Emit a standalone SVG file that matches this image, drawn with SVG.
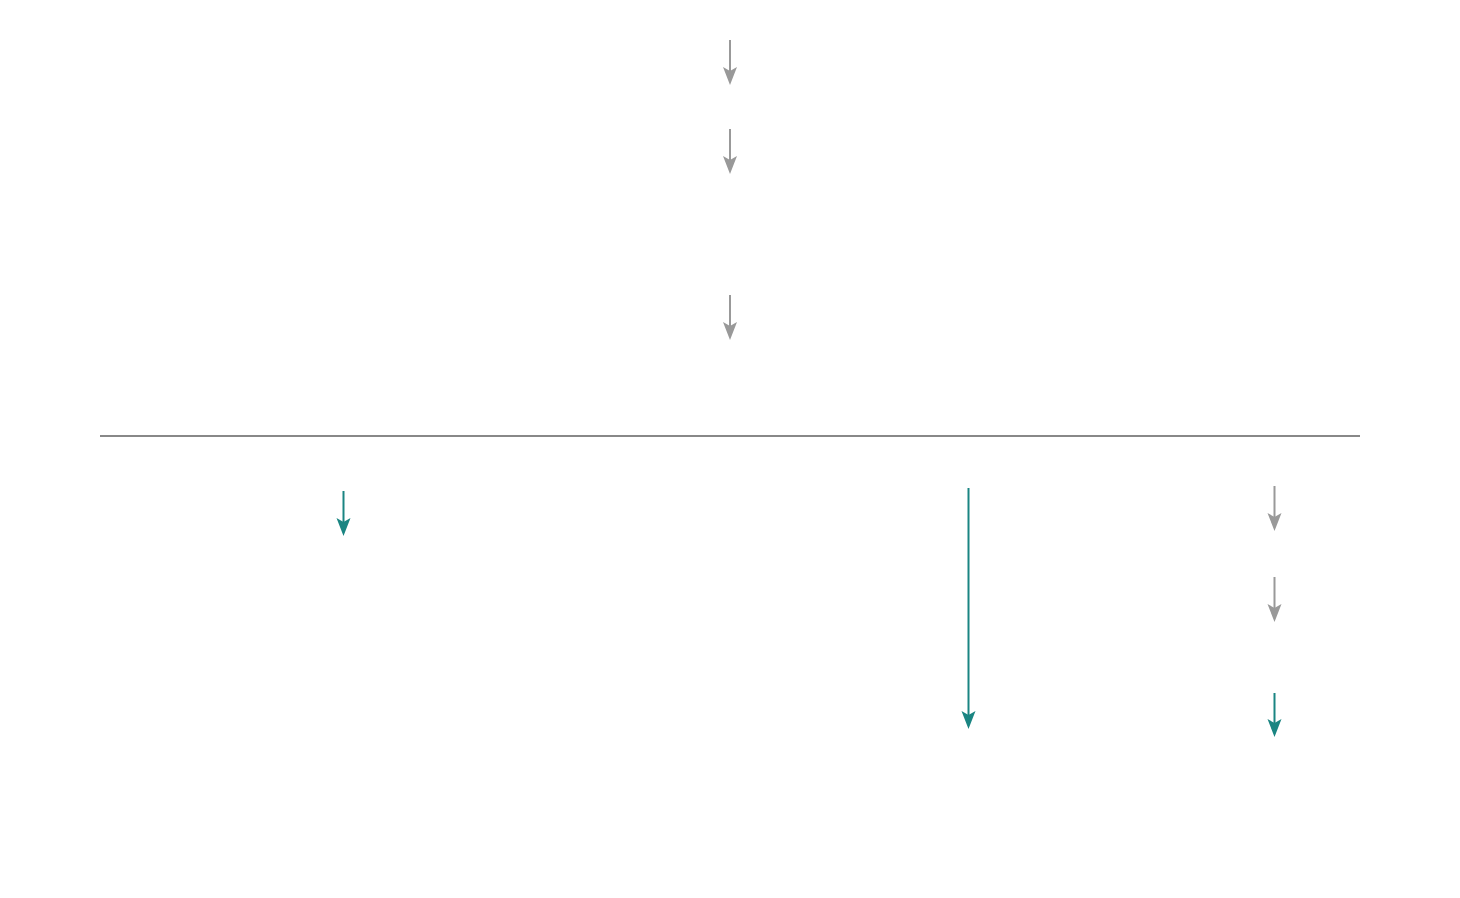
<svg xmlns="http://www.w3.org/2000/svg" width="1460" height="898" viewBox="0 0 1460 898">
<style>
.g{stroke:#999999;stroke-width:2;fill:none}
.t{stroke:#1a8582;stroke-width:2;fill:none}
.sep{stroke:#888888;stroke-width:2}
</style>
<defs>
<marker id="ag" viewBox="0 0 18 16" markerWidth="18" markerHeight="16" refX="14" refY="8" orient="auto" markerUnits="userSpaceOnUse">
<path d="M0,1 L18,8 L0,15 L4,8 Z" fill="#999999"/>
</marker>
<marker id="at" viewBox="0 0 18 16" markerWidth="18" markerHeight="16" refX="14" refY="8" orient="auto" markerUnits="userSpaceOnUse">
<path d="M0,1 L18,8 L0,15 L4,8 Z" fill="#1a8582"/>
</marker>
</defs>
<rect width="1460" height="898" fill="#ffffff"/>
<line id="divider" class="sep" x1="100" y1="436" x2="1360" y2="436"/>
<g id="connectors">
<path class="g" d="M730,40 L730,81" marker-end="url(#ag)"/>
<path class="g" d="M730,129 L730,170" marker-end="url(#ag)"/>
<path class="g" d="M730,295 L730,336" marker-end="url(#ag)"/>
<path class="t" d="M343.5,491 L343.5,532" marker-end="url(#at)"/>
<path class="t" d="M968.5,488 L968.5,725" marker-end="url(#at)"/>
<path class="g" d="M1274.5,486 L1274.5,527" marker-end="url(#ag)"/>
<path class="g" d="M1274.5,577 L1274.5,618" marker-end="url(#ag)"/>
<path class="t" d="M1274.5,693 L1274.5,733" marker-end="url(#at)"/>
</g>
</svg>
